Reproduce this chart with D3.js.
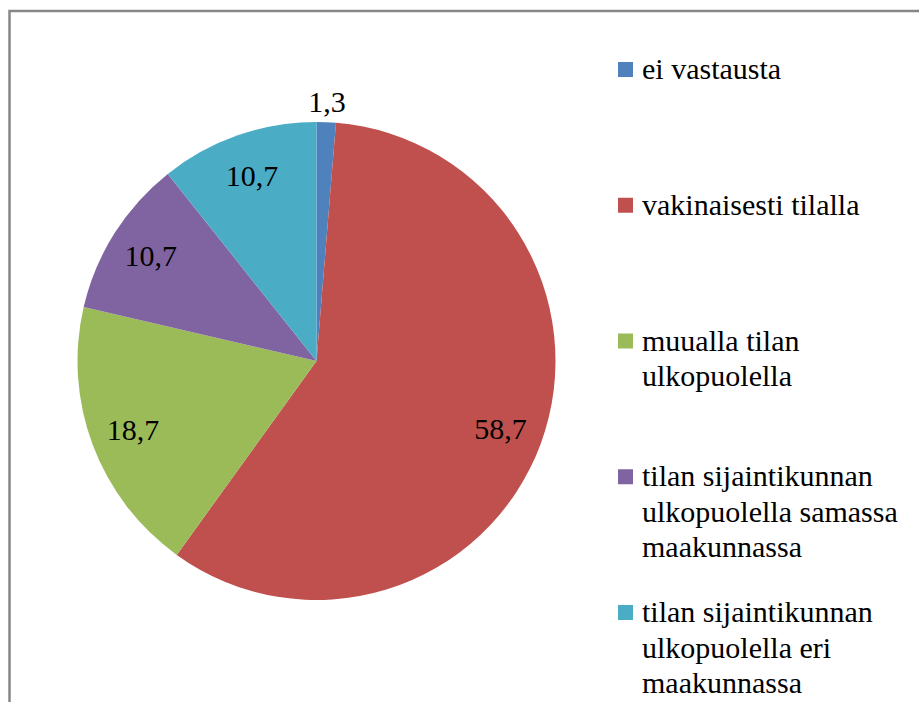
<!DOCTYPE html>
<html>
<head>
<meta charset="UTF-8">
<style>
  body { margin: 0; font-family: 'Times New Roman'; }
  svg { display: block; font-family: 'Times New Roman'; }
</style>
</head>
<body>
<script src="https://cdnjs.cloudflare.com/ajax/libs/d3/7.8.2/d3.min.js"></script>
<script>
// chart data
var categories = [
  "ei vastausta",
  "vakinaisesti tilalla",
  "muualla tilan ulkopuolella",
  "tilan sijaintikunnan ulkopuolella samassa maakunnassa",
  "tilan sijaintikunnan ulkopuolella eri maakunnassa"
];
var values = [1.3, 58.7, 18.7, 10.7, 10.7];
var valueLabels = ["1,3", "58,7", "18,7", "10,7", "10,7"];
// legend lines as they wrap in the picture
var legendLines = [
  ["ei vastausta"],
  ["vakinaisesti tilalla"],
  ["muualla tilan", "ulkopuolella"],
  ["tilan sijaintikunnan", "ulkopuolella samassa", "maakunnassa"],
  ["tilan sijaintikunnan", "ulkopuolella eri", "maakunnassa"]
];
var colors = ["#4F81BD", "#C0504D", "#9BBB59", "#8064A2", "#4BACC6"];

var width = 919, height = 702;
var cx = 316.5, cy = 361, radius = 239;

var svg = d3.select("body")
  .append("svg")
  .attr("width", width)
  .attr("height", height);

// outer frame (runs off the right and bottom)
svg.append("rect")
  .attr("x", 9.5)
  .attr("y", 11)
  .attr("width", 1000)
  .attr("height", 900)
  .attr("fill", "none")
  .attr("stroke", "#878787")
  .attr("stroke-width", 2.5);

var color = d3.scaleOrdinal().domain(categories).range(colors);

var pie = d3.pie()
  .sort(null)
  .value(function(d, i) { return values[i]; });

var arc = d3.arc().innerRadius(0).outerRadius(radius);

var arcs = pie(categories);

var g = svg.append("g")
  .attr("transform", "translate(" + cx + "," + cy + ")");

g.selectAll("path")
  .data(arcs)
  .enter()
  .append("path")
  .attr("d", arc)
  .attr("fill", function(d) { return color(d.data); });

// data labels: small slice goes outside, the rest inside
var inner = d3.arc().innerRadius(radius * 0.82).outerRadius(radius * 0.82);
var outer = d3.arc().innerRadius(radius * 1.085).outerRadius(radius * 1.085);

function labelPos(d) {
  return ((d.endAngle - d.startAngle) < 0.2 ? outer : inner).centroid(d);
}

g.selectAll(".lbl")
  .data(arcs)
  .enter()
  .append("text")
  .attr("class", "lbl")
  .attr("x", function(d) { return labelPos(d)[0]; })
  .attr("y", function(d) { return labelPos(d)[1] + 10; })
  .attr("text-anchor", "middle")
  .style("font", "30px 'Times New Roman'")
  .text(function(d, i) { return valueLabels[i]; });

// legend
var legendY = d3.scalePoint()
  .domain(categories)
  .range([79, 622]);

var item = svg.selectAll(".legend")
  .data(categories)
  .enter()
  .append("g")
  .attr("class", "legend")
  .attr("transform", function(d) { return "translate(0," + legendY(d) + ")"; });

item.append("rect")
  .attr("x", 618)
  .attr("y", -17)
  .attr("width", 15)
  .attr("height", 15)
  .attr("fill", function(d) { return color(d); });

item.each(function(d, i) {
  var grp = d3.select(this);
  legendLines[i].forEach(function(line, j) {
    grp.append("text")
      .attr("x", 642)
      .attr("y", j * 35.5)
      .style("font", "30px 'Times New Roman'")
      .text(line);
  });
});
</script>
</body>
</html>
